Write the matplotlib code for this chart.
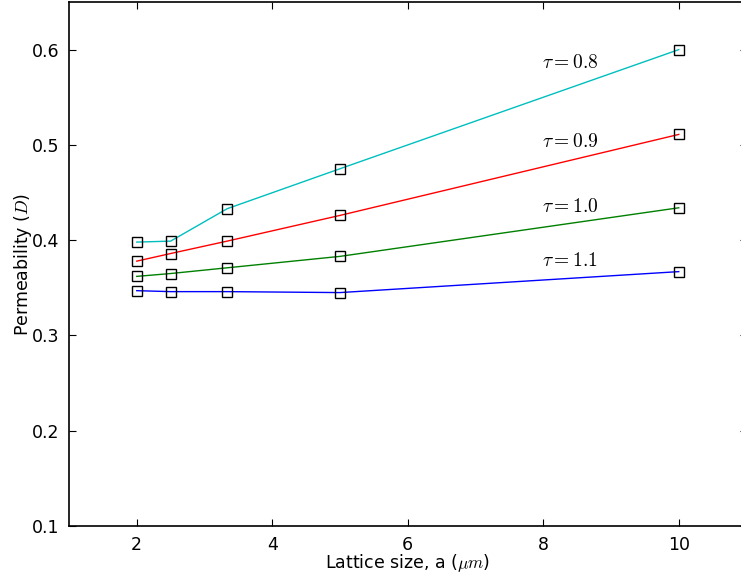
import matplotlib
matplotlib.use("Agg")
import matplotlib.pyplot as plt

plt.rcParams['mathtext.fontset'] = 'cm'

# lattice sizes a = 10/n (um)
lattice = [2.0, 2.5, 10.0 / 3.0, 5.0, 10.0]

perm_08 = [0.398, 0.399, 0.433, 0.475, 0.600]
perm_09 = [0.378, 0.386, 0.399, 0.426, 0.511]
perm_10 = [0.362, 0.365, 0.371, 0.383, 0.434]
perm_11 = [0.347, 0.346, 0.346, 0.345, 0.367]

taus = ['0.8', '0.9', '1.0', '1.1']
colors = ['c', 'r', 'g', 'b']
label_y = [0.586, 0.504, 0.435, 0.379]

fig = plt.figure(figsize=(7.41, 5.77), dpi=100)
ax = fig.add_axes([69 / 741, 1 - 526 / 577, 677.5 / 741, 524 / 577])

for perm, c in zip([perm_08, perm_09, perm_10, perm_11], colors):
    ax.plot(lattice, perm, color=c, lw=1.0, marker='s', ms=7,
            mfc='none', mec='k', mew=1.0)

for tau, y in zip(taus, label_y):
    ax.text(7.98, y, r'$\tau=' + tau + '$', fontsize=14, va='center')

ax.set_xlim(1, 11)
ax.set_ylim(0.1, 0.65)
ax.set_xticks([2, 4, 6, 8, 10])
ax.set_yticks([0.1, 0.2, 0.3, 0.4, 0.5, 0.6])
ax.tick_params(direction='in', top=True, right=True, length=5, labelsize=12.5, pad=7)
ax.set_xlabel(r'Lattice size, a ($\mu m$)', fontsize=12.5, labelpad=-1)
ax.set_ylabel(r'Permeability ($D$)', fontsize=12.5, labelpad=-2)
for s in ax.spines.values():
    s.set_linewidth(1.2)

fig.savefig('out.png', dpi=100)
